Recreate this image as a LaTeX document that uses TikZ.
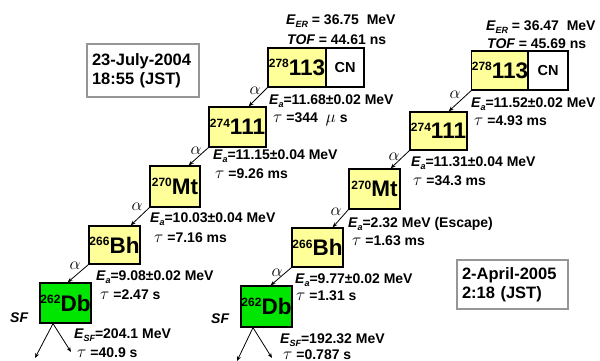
\documentclass[tikz,border=0pt]{standalone}
\usepackage{fontspec}
\setmainfont{Liberation Sans}
\usetikzlibrary{arrows.meta}
\definecolor{nucyellow}{RGB}{255,255,153}
\definecolor{nucgreen}{RGB}{0,230,0}
\definecolor{boxgray}{RGB}{150,150,150}
\newcommand\iso[2]{\raisebox{7.6pt}{\fontsize{12}{12}\selectfont #1}{\fontsize{22.5}{22.5}\selectfont #2}}
\newcommand\Esub[1]{{\itshape E}\raisebox{-3pt}{\fontsize{9}{9}\selectfont\itshape #1}}
\newcommand\tausym{{\fontsize{16}{16}\selectfont$\tau$}}
\newcommand\musym{{\fontsize{16}{16}\selectfont$\mu$}}
\begin{document}
\begin{tikzpicture}[x=1pt,y=-1pt,
  nucbox/.style={draw=black, line width=1.3pt, fill=nucyellow, inner sep=0pt, font=\bfseries},
  sfbox/.style={nucbox, fill=nucgreen},
  cnbox/.style={draw=black, line width=1.3pt, fill=white, inner sep=0pt, font=\fontsize{14.5}{14.5}\selectfont\bfseries},
  lbl/.style={anchor=base west, inner sep=0pt, font=\fontsize{14}{14}\selectfont\bfseries},
  alab/.style={inner sep=0pt, font=\fontsize{17}{17}\selectfont},
  decay/.style={line width=0.8pt, -{Stealth[length=5pt,width=4pt]}},
  datebox/.style={draw=boxgray, line width=1.2pt, fill=white, align=left, inner xsep=5pt,
    font=\fontsize{16.5}{18.5}\selectfont\bfseries}
]
\useasboundingbox (0,0) rectangle (600,361);

% ---- left chain ----
\node[nucbox, minimum width=58pt, minimum height=39pt] (L113) at (297,67.5) {\iso{278}{113}};
\node[cnbox, minimum width=38pt, minimum height=39pt] (LCN) at (345,67.5) {CN};
\node[nucbox, minimum width=57pt, minimum height=40pt] (L111) at (237.5,127) {\iso{274}{111}};
\node[nucbox, minimum width=50pt, minimum height=41pt] (LMt) at (175,186.5) {\iso{270}{Mt}};
\node[nucbox, minimum width=51pt, minimum height=38pt] (LBh) at (114.5,245) {\iso{266}{Bh}};
\node[sfbox, minimum width=51pt, minimum height=40pt] (LDb) at (65.5,303) {\iso{262}{Db}};

\coordinate (tL1) at ([xshift=-18pt]L111.north east);
\coordinate (tL2) at ([xshift=-12pt]LMt.north east);
\coordinate (tL3) at ([xshift=-10pt]LBh.north east);
\coordinate (tL4) at ([xshift=-24pt]LDb.north east);
\draw[decay] (L113.south west) -- (tL1);
\draw[decay] (L111.south west) -- (tL2);
\draw[decay] (LMt.south west) -- (tL3);
\draw[decay] (LBh.south west) -- (tL4);
\node[alab] (aL1) at (255,91) {$\alpha$};
\node[alab] (aL2) at (196,151) {$\alpha$};
\node[alab] (aL3) at (137,207) {$\alpha$};
\node[alab] (aL4) at (75,266) {$\alpha$};

\coordinate (sL) at ([xshift=-12.5pt]LDb.south);
\coordinate (sL1) at (35,358);
\coordinate (sL2) at (71,352);
\draw[decay] (sL) -- (sL1);
\draw[decay] (sL) -- (sL2);

\node[lbl] (LER) at (286,25) {\Esub{ER} = 36.75\ \ MeV};
\node[lbl] (LTOF) at (287,44.5) {\itshape TOF\upshape\ = 44.61 ns};
\node[lbl] (La1) at (269,104) {\Esub{a}=11.68±0.02 MeV};
\node[lbl] (Lt1) at (273,122) {\tausym\ =344\ \ \musym\ s};
\node[lbl] (La2) at (213,159) {\Esub{a}=11.15±0.04 MeV};
\node[lbl] (Lt2) at (215,178) {\tausym\ =9.26 ms};
\node[lbl] (La3) at (150,222) {\Esub{a}=10.03±0.04 MeV};
\node[lbl] (Lt3) at (154,242) {\tausym\ =7.16 ms};
\node[lbl] (La4) at (96,280) {\Esub{a}=9.08±0.02 MeV};
\node[lbl] (Lt4) at (100,299) {\tausym\ =2.47 s};
\node[lbl] (LSFE) at (74,338) {\Esub{SF}=204.1 MeV};
\node[lbl] (Lt5) at (77,357) {\tausym\ =40.9 s};
\node[lbl] (LSF) at (10,322) {\itshape SF};

\node[datebox, minimum width=112pt, minimum height=53pt, text width=102pt] (Ldate) at (143,70.5) {23-July-2004\\18:55 (JST)};

% ---- right chain ----
\node[nucbox, minimum width=56pt, minimum height=39pt] (R113) at (500,70.5) {\iso{278}{113}};
\node[cnbox, minimum width=40pt, minimum height=39pt] (RCN) at (548,70.5) {CN};
\node[nucbox, minimum width=57pt, minimum height=38pt] (R111) at (438.5,131) {\iso{274}{111}};
\node[nucbox, minimum width=51pt, minimum height=40pt] (RMt) at (374.5,189) {\iso{270}{Mt}};
\node[nucbox, minimum width=51pt, minimum height=39pt] (RBh) at (317.5,247.5) {\iso{266}{Bh}};
\node[sfbox, minimum width=51pt, minimum height=41pt] (RDb) at (266.5,306.5) {\iso{262}{Db}};

\coordinate (tR1) at ([xshift=-19pt]R111.north east);
\coordinate (tR2) at ([xshift=-10pt]RMt.north east);
\coordinate (tR3) at ([xshift=-11pt]RBh.north east);
\coordinate (tR4) at ([xshift=-22pt]RDb.north east);
\draw[decay] (R113.south west) -- (tR1);
\draw[decay] (R111.south west) -- (tR2);
\draw[decay] (RMt.south west) -- (tR3);
\draw[decay] (RBh.south west) -- (tR4);
\node[alab] (aR1) at (455,95) {$\alpha$};
\node[alab] (aR2) at (394,157) {$\alpha$};
\node[alab] (aR3) at (336,212) {$\alpha$};
\node[alab] (aR4) at (277,273) {$\alpha$};

\coordinate (sR) at ([xshift=-13.5pt]RDb.south);
\coordinate (sR1) at (237,361);
\coordinate (sR2) at (272,358);
\draw[decay] (sR) -- (sR1);
\draw[decay] (sR) -- (sR2);

\node[lbl] (RER) at (486,31) {\Esub{ER} = 36.47\ \ MeV};
\node[lbl] (RTOF) at (487,49) {\itshape TOF\upshape\ = 45.69 ns};
\node[lbl] (Ra1) at (471,107) {\Esub{a}=11.52±0.02 MeV};
\node[lbl] (Rt1) at (474,125) {\tausym\ =4.93 ms};
\node[lbl] (Ra2) at (411,166) {\Esub{a}=11.31±0.04 MeV};
\node[lbl] (Rt2) at (413,185) {\tausym\ =34.3 ms};
\node[lbl] (Ra3) at (348,227) {\Esub{a}=2.32 MeV (Escape)};
\node[lbl] (Rt3) at (352,245) {\tausym\ =1.63 ms};
\node[lbl] (Ra4) at (295,283) {\Esub{a}=9.77±0.02 MeV};
\node[lbl] (Rt4) at (296,300) {\tausym\ =1.31 s};
\node[lbl] (RSFE) at (280,343) {\Esub{SF}=192.32 MeV};
\node[lbl] (Rt5) at (283,359) {\tausym\ =0.787 s};
\node[lbl] (RSF) at (211,323) {\itshape SF};

\node[datebox, minimum width=111pt, minimum height=49pt, text width=101pt] (Rdate) at (512.5,284.5) {2-April-2005\\2:18 (JST)};
\end{tikzpicture}
\end{document}
